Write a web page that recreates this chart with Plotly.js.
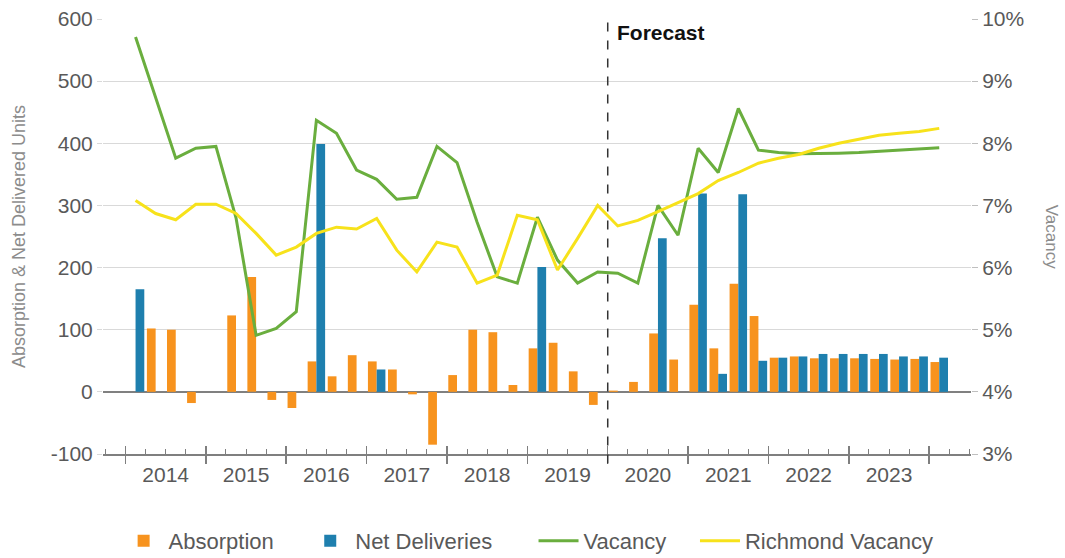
<!DOCTYPE html>
<html>
<head>
<meta charset="utf-8">
<script src="https://cdn.plot.ly/plotly-3.0.1.min.js"></script>
<style>
  html, body { margin: 0; padding: 0; background: #ffffff; }
  #chart { width: 1065px; height: 558px; }
</style>
</head>
<body>
<div id="chart"></div>
<script>
// Quarterly absorption / deliveries (units) and vacancy (%), 2014 Q1 - 2024 Q1
const quarters = [
  '2014 Q1','2014 Q2','2014 Q3','2014 Q4',
  '2015 Q1','2015 Q2','2015 Q3','2015 Q4',
  '2016 Q1','2016 Q2','2016 Q3','2016 Q4',
  '2017 Q1','2017 Q2','2017 Q3','2017 Q4',
  '2018 Q1','2018 Q2','2018 Q3','2018 Q4',
  '2019 Q1','2019 Q2','2019 Q3','2019 Q4',
  '2020 Q1','2020 Q2','2020 Q3','2020 Q4',
  '2021 Q1','2021 Q2','2021 Q3','2021 Q4',
  '2022 Q1','2022 Q2','2022 Q3','2022 Q4',
  '2023 Q1','2023 Q2','2023 Q3','2023 Q4',
  '2024 Q1'
];

const absorption = [
  0, 102, 100, -18,
  0, 123, 185, -13,
  -26, 49, 25, 59,
  49, 36, -4, -85,
  27, 100, 96, 11,
  70, 79, 33, -21,
  2, 16, 94, 52,
  140, 70, 174, 122,
  55, 57, 54, 54,
  54, 53, 52, 53,
  48
];

const netDeliveries = [
  165, 0, 0, 0,
  0, 0, 0, 0,
  0, 399, 0, 0,
  36, 0, 0, 0,
  0, 0, 0, 0,
  201, 0, 0, 0,
  0, 0, 247, 0,
  319, 29, 318, 50,
  55, 57, 61, 61,
  61, 61, 57, 57,
  55
];

const vacancy = [
  9.71, 8.75, 7.76, 7.92,
  7.95, 6.80, 4.91, 5.02,
  5.29, 8.37, 8.16, 7.57,
  7.42, 7.10, 7.13, 7.95,
  7.69, 6.73, 5.85, 5.75,
  6.81, 6.12, 5.75, 5.93,
  5.91, 5.75, 7.00, 6.52,
  7.92, 7.53, 8.56, 7.89,
  7.85, 7.83, 7.83, 7.84,
  7.85, 7.87, 7.88, 7.90,
  7.93
];

const richmondVacancy = [
  7.08, 6.87, 6.77, 7.02,
  7.02, 6.87, 6.55, 6.20,
  6.33, 6.55, 6.65, 6.62,
  6.79, 6.28, 5.93, 6.41,
  6.33, 5.75, 5.88, 6.84,
  6.77, 5.96, 6.47, 7.00,
  6.67, 6.76, 6.90, 7.05,
  7.19, 7.40, 7.53, 7.68,
  7.76, 7.82, 7.92, 8.00,
  8.06, 8.13, 8.16, 8.19,
  8.24
];

const yearLabels = ['2014','2015','2016','2017','2018','2019','2020','2021','2022','2023'];
const unitTickValues = [-100, 0, 100, 200, 300, 400, 500, 600];
const unitTickLabels = ['-100', '0', '100', '200', '300', '400', '500', '600'];
const vacancyTickValues = [3, 4, 5, 6, 7, 8, 9, 10];
const vacancyTickLabels = ['3%', '4%', '5%', '6%', '7%', '8%', '9%', '10%'];
const forecastStart = 2020;

// Place each quarter at the middle of its slot on a continuous year scale
function quarterPos(label) {
  const parts = label.split(' Q');
  return Number(parts[0]) + (Number(parts[1]) - 1) / 4 + 0.125;
}
const xs = quarters.map(quarterPos);

const firstYear = Number(yearLabels[0]);
const yearEdges = yearLabels.map(y => Number(y)).concat([Number(yearLabels[yearLabels.length - 1]) + 1]);
const yearMids = yearLabels.map(y => Number(y) + 0.5);
const xRange = [firstYear - 0.28, firstYear + 10.52];

const COLORS = {
  absorption: '#F7931E',
  deliveries: '#1E7FAE',
  vacancy: '#6AAE3E',
  richmond: '#F7E21B'
};
const FONT = 'Liberation Sans, Arial, Helvetica, sans-serif';
const TICK_TEXT = '#595959';
const AXIS_GRAY = '#7f7f7f';

const traces = [
  {
    type: 'bar', name: 'Absorption', x: xs, y: absorption,
    marker: { color: COLORS.absorption }, xaxis: 'x', yaxis: 'y', legend: 'legend'
  },
  {
    type: 'bar', name: 'Net Deliveries', x: xs, y: netDeliveries,
    marker: { color: COLORS.deliveries }, xaxis: 'x', yaxis: 'y', legend: 'legend2'
  },
  {
    type: 'scatter', mode: 'lines', name: 'Vacancy', x: xs, y: vacancy,
    line: { color: COLORS.vacancy, width: 3 },
    xaxis: 'x2', yaxis: 'y2', legend: 'legend3'
  },
  {
    type: 'scatter', mode: 'lines', name: 'Richmond Vacancy', x: xs, y: richmondVacancy,
    line: { color: COLORS.richmond, width: 3 },
    xaxis: 'x3', yaxis: 'y2', legend: 'legend4'
  }
];

// one legend box per series, spaced along the bottom row
function legendAt(x) {
  return {
    orientation: 'h',
    xref: 'paper', x: x, xanchor: 'left',
    yref: 'container', y: 0.068, yanchor: 'top',
    font: { family: FONT, size: 22, color: TICK_TEXT },
    itemwidth: 40,
    bgcolor: 'rgba(0,0,0,0)'
  };
}

const layout = {
  width: 1065,
  height: 558,
  margin: { l: 103, r: 94, t: 19, b: 104 },
  paper_bgcolor: '#ffffff',
  plot_bgcolor: '#ffffff',
  font: { family: FONT, size: 21, color: TICK_TEXT },
  barmode: 'group',
  bargap: 0.13,
  bargroupgap: 0,
  showlegend: true,
  legend: legendAt(0.018),
  legend2: legendAt(0.233),
  legend3: legendAt(0.496),
  legend4: legendAt(0.682),
  // year boundaries (below the line) with quarter minor ticks
  xaxis: {
    range: xRange,
    tickmode: 'array',
    tickvals: yearEdges,
    showticklabels: false,
    ticks: 'outside', ticklen: 8, tickwidth: 1.5, tickcolor: AXIS_GRAY,
    minor: { tickmode: 'linear', tick0: firstYear, dtick: 0.25, ticks: 'inside', ticklen: 5, tickwidth: 1, tickcolor: AXIS_GRAY, showgrid: false },
    showline: true, linecolor: AXIS_GRAY, linewidth: 1.5,
    showgrid: false, zeroline: false,
    anchor: 'y', automargin: false, fixedrange: true
  },
  // year labels centred within each year
  xaxis2: {
    range: xRange,
    overlaying: 'x', anchor: 'y', side: 'bottom',
    tickmode: 'array', tickvals: yearMids, ticktext: yearLabels,
    ticks: '', showline: false, showgrid: false, zeroline: false,
    ticklabelstandoff: 6,
    tickfont: { family: FONT, size: 21, color: TICK_TEXT },
    automargin: false, fixedrange: true
  },
  // year boundary ticks above the line
  xaxis3: {
    range: xRange,
    overlaying: 'x', anchor: 'y', side: 'bottom',
    tickmode: 'array', tickvals: yearEdges,
    ticks: 'inside', ticklen: 8, tickwidth: 1.5, tickcolor: AXIS_GRAY,
    showticklabels: false, showline: false, showgrid: false, zeroline: false,
    automargin: false, fixedrange: true
  },
  yaxis: {
    range: [-100, 600],
    tickmode: 'array', tickvals: unitTickValues, ticktext: unitTickLabels,
    showgrid: true, gridcolor: '#d9d9d9', gridwidth: 1,
    zeroline: true, zerolinecolor: '#808080', zerolinewidth: 1.5,
    ticks: 'outside', ticklen: 5, tickcolor: '#d9d9d9',
    tickfont: { family: FONT, size: 21, color: TICK_TEXT },
    title: {
      text: 'Absorption & Net Delivered Units',
      font: { family: FONT, size: 18, color: '#8c8c8c' },
      standoff: 20
    },
    automargin: false, fixedrange: true
  },
  yaxis2: {
    range: [3, 10],
    tickmode: 'array', tickvals: vacancyTickValues, ticktext: vacancyTickLabels,
    overlaying: 'y', side: 'right', anchor: 'x',
    showgrid: false, zeroline: false,
    ticks: 'outside', ticklen: 6, tickcolor: '#bfbfbf',
    tickfont: { family: FONT, size: 21, color: TICK_TEXT },
    automargin: false, fixedrange: true
  },
  shapes: [
    {
      type: 'line', xref: 'x', yref: 'paper',
      x0: forecastStart, x1: forecastStart, y0: -0.022, y1: 1,
      line: { color: '#333333', width: 1.5, dash: 'dash' }
    }
  ],
  annotations: [
    {
      text: '<b>Forecast</b>', xref: 'x', yref: 'paper',
      x: forecastStart, y: 0.97, xanchor: 'left', yanchor: 'middle',
      xshift: 7, showarrow: false,
      font: { family: FONT, size: 21, color: '#111111' }
    },
    {
      text: 'Vacancy', xref: 'paper', yref: 'paper',
      x: 1.093, y: 0.5, xanchor: 'center', yanchor: 'middle',
      textangle: 90, showarrow: false,
      font: { family: FONT, size: 17, color: '#8c8c8c' }
    }
  ]
};

Plotly.newPlot('chart', traces, layout, { displayModeBar: false, staticPlot: true });
</script>
</body>
</html>
